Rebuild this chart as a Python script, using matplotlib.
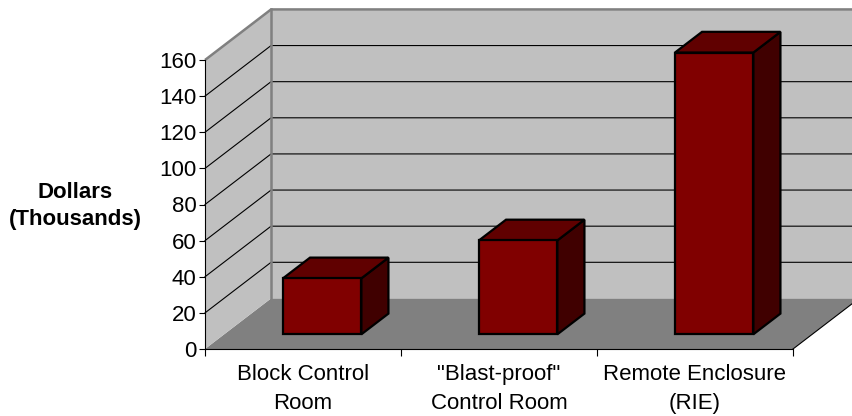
import matplotlib
matplotlib.use("Agg")
import matplotlib.pyplot as plt
from matplotlib.patches import Polygon

plt.rcParams['font.family'] = ['Liberation Sans', 'DejaVu Sans']

categories = ['Block Control\nRoom', '"Blast-proof"\nControl Room', 'Remote Enclosure\n(RIE)']
costs      = [31, 52, 156]          # thousands of dollars
y_ticks    = [0, 20, 40, 60, 80, 100, 120, 140, 160]

Y_MAX   = 160
DEPTH_X = 0.337     # full depth offset, category units
DEPTH_Y = 28.0      # full depth offset, value units
BAR_W   = 0.40
BAR_D0, BAR_D1 = 0.29, 0.70   # bar front/back as fraction of depth
FS      = 16

WALL  = '#c0c0c0'
FLOOR = '#808080'
EDGE  = '#808080'
FRONT = '#800000'
TOP   = '#600000'
SIDE  = '#400000'

W, H = 853, 416
fig = plt.figure(figsize=(W / 100, H / 100), dpi=100)
ax = fig.add_axes([205 / W, 67 / H, 588 / W, 289 / H])
ax.patch.set_visible(False)
n = len(categories)
ax.set_xlim(0, n)
ax.set_ylim(0, Y_MAX)

def poly(pts, fc, ec='none', lw=0, z=1):
    ax.add_patch(Polygon(pts, closed=True, facecolor=fc, edgecolor=ec,
                         linewidth=lw, zorder=z, clip_on=False, joinstyle='miter'))

dx, dy = DEPTH_X, DEPTH_Y

# floor, left wall, back wall
poly([(0, 0), (n, 0), (n + dx, dy), (dx, dy)], FLOOR, z=0.5)
ax.plot([n, n + dx], [0, dy], color='black', lw=0.8, clip_on=False, zorder=0.6)
poly([(0, 0), (0, Y_MAX), (dx, Y_MAX + dy), (dx, dy)], WALL, z=0.5)
poly([(dx, dy), (dx, Y_MAX + dy), (n + dx, Y_MAX + dy), (n + dx, dy)], WALL, z=0.5)
ax.plot([0, dx, n + dx], [Y_MAX, Y_MAX + dy, Y_MAX + dy], color=EDGE, lw=1.8,
        clip_on=False, zorder=0.8, solid_capstyle='butt')
ax.plot([dx, dx], [dy, Y_MAX + dy], color=EDGE, lw=1.8, clip_on=False, zorder=0.8)

# gridlines on the walls
for v in y_ticks[1:-1]:
    ax.plot([0, dx, n + dx], [v, v + dy, v + dy], color='black', lw=0.8,
            clip_on=False, zorder=0.7)

# 3D bars
for i, v in enumerate(costs):
    c = i + 0.5
    x0 = c - BAR_W / 2 + BAR_D0 * dx
    x1 = c + BAR_W / 2 + BAR_D0 * dx
    y0 = BAR_D0 * dy
    ox = (BAR_D1 - BAR_D0) * dx
    oy = (BAR_D1 - BAR_D0) * dy
    poly([(x1, y0), (x1 + ox, y0 + oy), (x1 + ox, y0 + v + oy), (x1, y0 + v)],
         SIDE, 'black', 1.6, z=2)
    poly([(x0, y0 + v), (x1, y0 + v), (x1 + ox, y0 + v + oy), (x0 + ox, y0 + v + oy)],
         TOP, 'black', 1.6, z=2)
    poly([(x0, y0), (x1, y0), (x1, y0 + v), (x0, y0 + v)], FRONT, 'black', 1.6, z=2.1)

# axes
for s in ['top', 'right']:
    ax.spines[s].set_visible(False)
for s in ['left', 'bottom']:
    ax.spines[s].set_color('black')
    ax.spines[s].set_linewidth(0.8)

ax.set_yticks(y_ticks)
ax.tick_params(axis='y', length=4, width=0.8, pad=2, labelsize=FS)
ax.set_xticks(range(n + 1))
ax.set_xticklabels([])
ax.set_xticks([i + 0.5 for i in range(n)], minor=True)
ax.set_xticklabels(categories, minor=True, fontsize=FS, linespacing=1.5)
ax.tick_params(axis='x', which='major', length=5, width=0.8)
ax.tick_params(axis='x', which='minor', length=0, pad=11)

ax.set_ylabel('Dollars\n(Thousands)', rotation=0, fontsize=FS, fontweight='bold',
              ha='center', va='center', linespacing=1.35)
ax.yaxis.set_label_coords(-0.221, 0.495)

fig.savefig('out.png', dpi=100)
